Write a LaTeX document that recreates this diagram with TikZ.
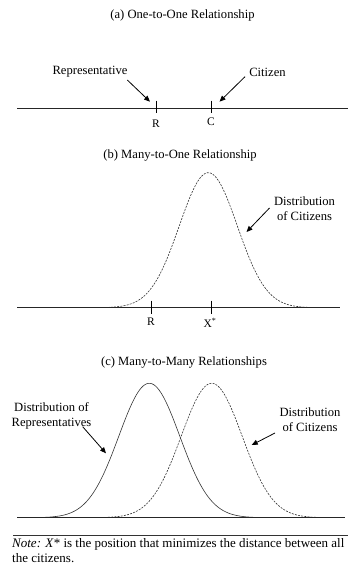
\documentclass[tikz,border=0pt]{standalone}
\usepackage{fontspec}
\setmainfont{Liberation Serif}
\usetikzlibrary{arrows.meta}
\begin{document}
\begin{tikzpicture}[x=1pt,y=-1pt,
  lbl/.style={inner sep=0pt,font=\fontsize{12.6}{15}\selectfont,align=center},
  ticklbl/.style={inner sep=0pt,font=\fontsize{11.5}{13}\selectfont},
  axisline/.style={line width=0.7pt,black!85},
  tickmark/.style={line width=0.8pt,black},
  pointer/.style={line width=0.8pt,-{Triangle[length=6pt,width=5pt]}},
  solidcurve/.style={line width=0.6pt,black!80},
  dashcurve/.style={line width=0.6pt,black!80,dash pattern=on 2pt off 1.2pt},
  note/.style={inner sep=0pt,anchor=base west,font=\fontsize{13}{15}\selectfont}]
\useasboundingbox (0,0) rectangle (348,569);
% ---------- (a)
\node[lbl] (ta) at (182.5,15) {(a) One-to-One Relationship};
\draw[axisline] (17,108.3) coordinate (a0) -- (348,108.3) coordinate (a1);
\draw[tickmark] (156,100.7) coordinate (rtop) -- (156,113.3) coordinate (rbot);
\draw[tickmark] (211.7,100.7) coordinate (ctop) -- (211.7,113.3) coordinate (cbot);
\node[ticklbl] (rl) at (156,124) {R};
\node[ticklbl] (cl) at (211,122) {C};
\node[lbl] (rep) at (90,72) {Representative};
\node[lbl] (cit) at (267.5,72.5) {Citizen};
\coordinate (repend) at (150,101.7);
\coordinate (citend) at (219.5,101.7);
\draw[pointer] (127.3,80) -- (repend);
\draw[pointer] (245,76.7) -- (citend);
% ---------- (b)
\node[lbl] (tb) at (180,155) {(b) Many-to-One Relationship};
\draw[dashcurve] plot[domain=98:318,samples=120,smooth] (\x,{307.7-135*exp(-0.5*((\x-208.3)/29)^2)});
\draw[axisline] (17,307.7) -- (340,307.7);
\draw[tickmark] (151,300.5) -- (151,313.5);
\draw[tickmark] (211,300.5) -- (211,313.5);
\node[ticklbl] (rl2) at (151,322) {R};
\node[ticklbl] (xl) at (210,323) {X\textsuperscript{*}};
\node[lbl] (dcb) at (304.5,208.5) {Distribution\\of Citizens};
\coordinate (dcbend) at (246.5,232);
\draw[pointer] (269.5,208) -- (dcbend);
% ---------- (c)
\node[lbl] (tc) at (184,362.3) {(c) Many-to-Many Relationships};
\draw[solidcurve] plot[domain=29:270,samples=140,smooth] (\x,{517.7-134.4*exp(-0.5*((\x-149.3)/30.5)^2)});
\draw[dashcurve] plot[domain=92:332,samples=140,smooth] (\x,{517.7-134.4*exp(-0.5*((\x-211.7)/30.5)^2)});
\draw[axisline] (17,517.7) -- (345,517.7);
\node[lbl] (drc) at (51.5,415.5) {Distribution of\\Representatives};
\node[lbl] (dcc) at (310,420) {Distribution\\of Citizens};
\coordinate (drcend) at (106,453.3);
\coordinate (dccend) at (251.7,445);
\draw[pointer] (82.7,426.7) -- (drcend);
\draw[pointer] (275,433) -- (dccend);
% ---------- note
\draw[line width=0.6pt,black!80] (13,535) -- (348,535);
\node[note] (n1) at (12,547.3) {\textit{Note:} \textit{X}* is the position that minimizes the distance between all};
\node[note] (n2) at (12,562) {the citizens.};
\end{tikzpicture}
\end{document}
